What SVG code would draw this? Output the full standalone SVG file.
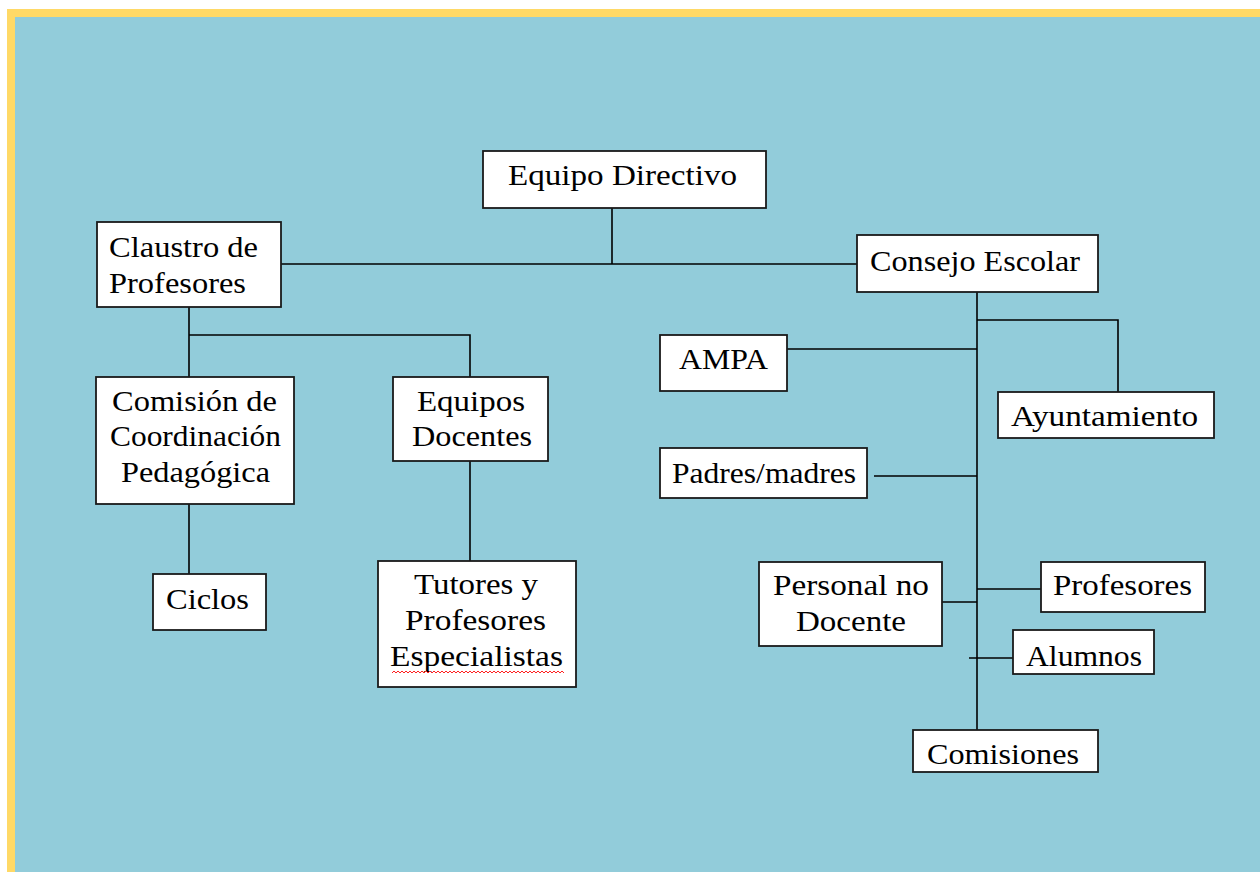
<svg xmlns="http://www.w3.org/2000/svg" width="1260" height="872" viewBox="0 0 1260 872">
<style>
.box{fill:#fff;stroke:#1a1a1a;stroke-width:1.8}
.t{font-family:"Liberation Serif","Times New Roman",serif;font-size:30px;fill:#000;text-anchor:middle}
.c{fill:none;stroke:#000;stroke-width:1.6}
</style>
<rect x="0" y="0" width="1260" height="872" fill="#ffffff"/>
<rect x="7" y="9" width="1253" height="863" fill="#FFD966"/>
<rect x="15" y="17" width="1245" height="855" fill="#92CCDA"/>
<g id="connectors">
<path class="c" d="M612 208V264M281 264H857"/>
<path class="c" d="M189 307V377M189 335H470V377"/>
<path class="c" d="M189 504V574"/>
<path class="c" d="M470 461V561"/>
<path class="c" d="M977 292V730"/>
<path class="c" d="M977 320H1118V392"/>
<path class="c" d="M787 349H977"/>
<path class="c" d="M874 476H977"/>
<path class="c" d="M942 602H977"/>
<path class="c" d="M977 589H1041"/>
<path class="c" d="M969 658H1013"/>
</g>
<g id="equipo-directivo"><rect class="box" x="483" y="151" width="283" height="57"/><text class="t" x="622.5" y="185" textLength="229" lengthAdjust="spacingAndGlyphs">Equipo Directivo</text></g>
<g id="claustro"><rect class="box" x="97" y="222" width="184" height="85"/><text class="t" x="183.5" y="257" textLength="149" lengthAdjust="spacingAndGlyphs">Claustro de</text><text class="t" x="177.5" y="293" textLength="137" lengthAdjust="spacingAndGlyphs">Profesores</text></g>
<g id="consejo-escolar"><rect class="box" x="857" y="235" width="241" height="57"/><text class="t" x="975" y="271" textLength="210" lengthAdjust="spacingAndGlyphs">Consejo Escolar</text></g>
<g id="comision"><rect class="box" x="96" y="377" width="198" height="127"/><text class="t" x="194.5" y="411" textLength="165" lengthAdjust="spacingAndGlyphs">Comisión de</text><text class="t" x="195.5" y="446" textLength="171" lengthAdjust="spacingAndGlyphs">Coordinación</text><text class="t" x="195.5" y="482" textLength="149" lengthAdjust="spacingAndGlyphs">Pedagógica</text></g>
<g id="equipos-docentes"><rect class="box" x="393" y="377" width="155" height="84"/><text class="t" x="471" y="411" textLength="108" lengthAdjust="spacingAndGlyphs">Equipos</text><text class="t" x="472" y="446" textLength="120" lengthAdjust="spacingAndGlyphs">Docentes</text></g>
<g id="ciclos"><rect class="box" x="153" y="574" width="113" height="56"/><text class="t" x="207.5" y="609" textLength="83" lengthAdjust="spacingAndGlyphs">Ciclos</text></g>
<g id="tutores"><rect class="box" x="378" y="561" width="198" height="126"/><text class="t" x="476" y="594" textLength="124" lengthAdjust="spacingAndGlyphs">Tutores y</text><text class="t" x="475.5" y="630" textLength="141" lengthAdjust="spacingAndGlyphs">Profesores</text><text class="t" x="476.5" y="666" textLength="173" lengthAdjust="spacingAndGlyphs">Especialistas</text><path d="M392 673l2-2 2 2 2-2 2 2 2-2 2 2 2-2 2 2 2-2 2 2 2-2 2 2 2-2 2 2 2-2 2 2 2-2 2 2 2-2 2 2 2-2 2 2 2-2 2 2 2-2 2 2 2-2 2 2 2-2 2 2 2-2 2 2 2-2 2 2 2-2 2 2 2-2 2 2 2-2 2 2 2-2 2 2 2-2 2 2 2-2 2 2 2-2 2 2 2-2 2 2 2-2 2 2 2-2 2 2 2-2 2 2 2-2 2 2 2-2 2 2 2-2 2 2 2-2 2 2 2-2 2 2 2-2 2 2 2-2 2 2 2-2 2 2 2-2 2 2 2-2 2 2 2-2 2 2 2-2 2 2 2-2 2 2 2-2 2 2 2-2 2 2" fill="none" stroke="#ff2020" stroke-width="1"/></g>
<g id="ampa"><rect class="box" x="660" y="335" width="127" height="56"/><text class="t" x="723.5" y="369" textLength="89" lengthAdjust="spacingAndGlyphs">AMPA</text></g>
<g id="ayuntamiento"><rect class="box" x="998" y="392" width="216" height="46"/><text class="t" x="1104.5" y="426" textLength="187" lengthAdjust="spacingAndGlyphs">Ayuntamiento</text></g>
<g id="padres"><rect class="box" x="660" y="448" width="207" height="50"/><text class="t" x="764" y="483" textLength="184" lengthAdjust="spacingAndGlyphs">Padres/madres</text></g>
<g id="personal"><rect class="box" x="759" y="562" width="183" height="84"/><text class="t" x="851" y="595" textLength="156" lengthAdjust="spacingAndGlyphs">Personal no</text><text class="t" x="851" y="631" textLength="110" lengthAdjust="spacingAndGlyphs">Docente</text></g>
<g id="profesores"><rect class="box" x="1041" y="562" width="164" height="50"/><text class="t" x="1122.5" y="595" textLength="139" lengthAdjust="spacingAndGlyphs">Profesores</text></g>
<g id="alumnos"><rect class="box" x="1013" y="630" width="141" height="44"/><text class="t" x="1084" y="666" textLength="116" lengthAdjust="spacingAndGlyphs">Alumnos</text></g>
<g id="comisiones"><rect class="box" x="913" y="730" width="185" height="42"/><text class="t" x="1003" y="764" textLength="152" lengthAdjust="spacingAndGlyphs">Comisiones</text></g>
</svg>
